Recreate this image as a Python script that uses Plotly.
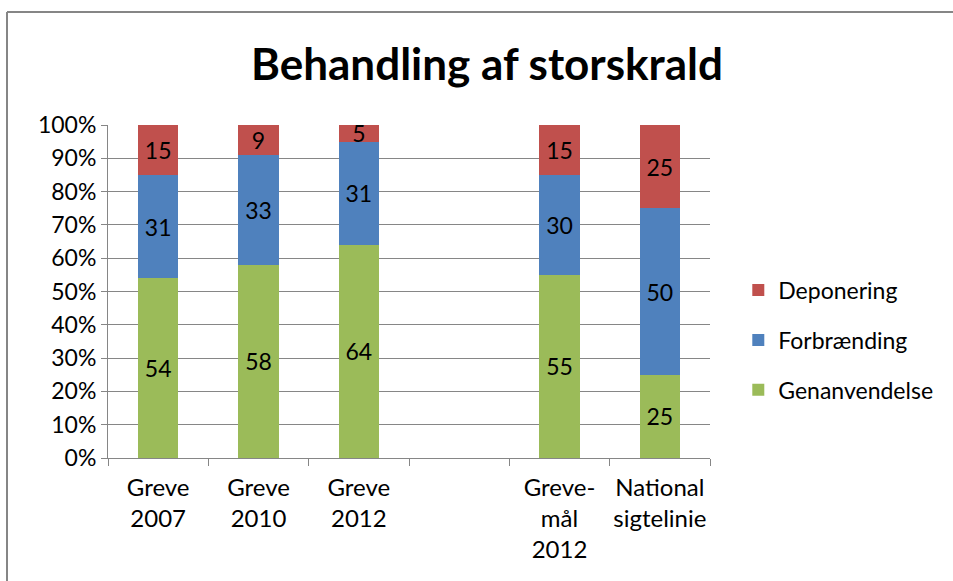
import plotly.graph_objects as go

categories = ["Greve<br>2007", "Greve<br>2010", "Greve<br>2012", " ", "Greve-<br>mål<br>2012", "National<br>sigtelinie"]
genanvendelse = [54, 58, 64, None, 55, 25]
forbraending = [31, 33, 31, None, 30, 50]
deponering = [15, 9, 5, None, 15, 25]

series = [
    ("Genanvendelse", genanvendelse, "#9BBB59", 3),
    ("Forbrænding", forbraending, "#4F81BD", 2),
    ("Deponering", deponering, "#C0504D", 1),
]

font_family = "Lato, Open Sans, Noto Sans, DejaVu Sans, sans-serif"

fig = go.Figure()
for name, vals, color, rank in series:
    fig.add_trace(go.Bar(
        x=categories, y=vals, name=name, legendgroup=name, legendrank=rank,
        marker=dict(color=color, line=dict(width=0)),
        text=[("" if v is None else str(v)) for v in vals],
        textposition="inside", insidetextanchor="middle", textangle=0,
        textfont=dict(size=23, color="black", family=font_family),
        hoverinfo="skip",
    ))

fig.update_layout(
    barmode="stack",
    bargap=0.6,
    width=953, height=581,
    margin=dict(l=108, r=243, t=125, b=123),
    paper_bgcolor="white", plot_bgcolor="white",
    font=dict(family=font_family, size=23, color="black"),
    uniformtext=dict(minsize=23, mode="show"),
    title=dict(text="<b>Behandling af storskrald</b>", x=0.511, xanchor="center",
               y=0.888, yanchor="middle", xref="container", yref="container",
               font=dict(size=44, family=font_family, color="black")),
    legend=dict(x=1.047, xanchor="left", y=0.354, yanchor="middle",
                font=dict(size=23), tracegroupgap=17, itemwidth=30,
                traceorder="grouped"),
    xaxis=dict(type="category", categoryorder="array", categoryarray=categories,
               showgrid=False, showline=True, linecolor="#868686", linewidth=1,
               ticks="outside", tickson="boundaries", ticklen=7, tickcolor="#868686",
               tickfont=dict(size=24), tickangle=0, ticklabelstandoff=8, automargin=False),
    yaxis=dict(range=[0, 100], dtick=10, ticksuffix="%", showgrid=True,
               gridcolor="#868686", gridwidth=1, showline=True, linecolor="#868686",
               ticks="outside", ticklen=6, tickcolor="#868686", zeroline=False,
               tickfont=dict(size=23), automargin=False),
    shapes=[
        dict(type="line", xref="paper", yref="paper", x0=(7 - 108) / 602, x1=(7 - 108) / 602,
             y0=(458 - 581) / 333, y1=(458 - 12) / 333, line=dict(color="#868686", width=2)),
        dict(type="line", xref="paper", yref="paper", x0=(7 - 108) / 602, x1=(953 - 108) / 602,
             y0=(458 - 12) / 333, y1=(458 - 12) / 333, line=dict(color="#868686", width=2)),
    ],
)

fig.write_html("out.html", config={"displayModeBar": False},
               post_script="document.body.style.margin='0';document.body.style.overflow='hidden';")
